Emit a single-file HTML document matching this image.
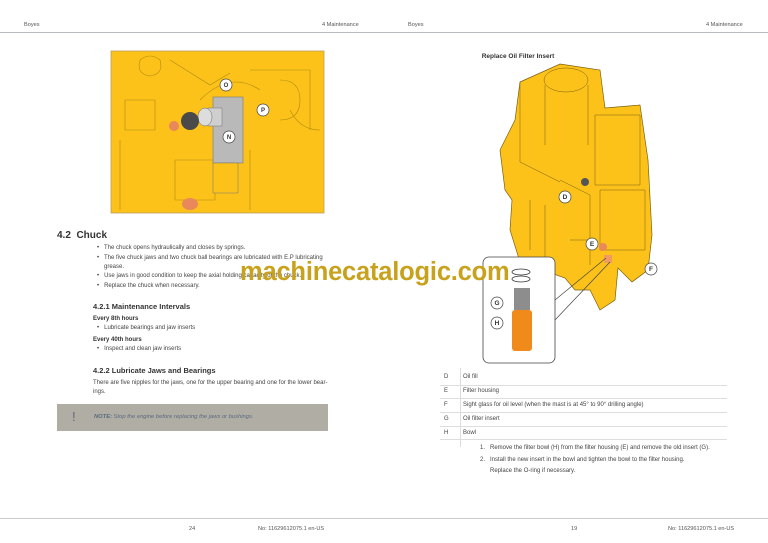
<!DOCTYPE html>
<html><head><meta charset="utf-8"><style>
*{margin:0;padding:0;box-sizing:border-box}
body{width:768px;height:543px;background:#fff;position:relative;overflow:hidden;font-family:"Liberation Sans",sans-serif;color:#333}
.a{position:absolute;white-space:nowrap}
.s{font-size:5.6px;color:#555}
.b{font-size:6px;color:#444}
.hd{font-weight:bold;color:#333}
</style></head><body>
<div class="a s" style="left:24px;top:22px">Boyes</div>
<div class="a s" style="left:322px;top:22px">4 Maintenance</div>
<div class="a s" style="left:408px;top:22px">Boyes</div>
<div class="a s" style="left:706px;top:22px">4 Maintenance</div>
<div class="a" style="left:0;top:32px;width:768px;height:1px;background:#b8bcc0"></div>

<svg class="a" style="left:0;top:0" width="768" height="543">
<!-- left image -->
<rect x="111" y="51" width="213" height="162" fill="#fcc21a" stroke="#bba060" stroke-width="0.8"/>
<g fill="none" stroke="#b08a10" stroke-width="0.6">
<path d="M140 60 q10 -8 20 0 q4 14 -10 16 q-14 -2 -10 -16z"/>
<path d="M170 60 l40 25 l20 -12"/><path d="M250 70 h60 v60"/><path d="M120 140 v70"/><path d="M175 160 h40 v40 h-40z"/>
<path d="M200 100 q30 -30 60 -10"/><path d="M290 110 q10 20 30 20"/>
<path d="M125 100 h30 v30 h-30z"/><path d="M280 80 q20 0 20 20 q0 20 -20 20"/><path d="M250 150 v60"/>
</g>
<circle cx="174" cy="126" r="5" fill="#e9885a"/>
<ellipse cx="190" cy="204" rx="8" ry="6" fill="#e9885a"/>
<rect x="213" y="97" width="30" height="66" fill="#b9b9b9" stroke="#777" stroke-width="0.6"/>
<rect x="208" y="108" width="14" height="18" fill="#cfcfcf" stroke="#777" stroke-width="0.5"/>
<ellipse cx="205" cy="117" rx="7" ry="9" fill="#ddd" stroke="#666" stroke-width="0.5"/>
<circle cx="190" cy="121" r="9" fill="#4a4a4a"/>
<rect x="213" y="163" width="25" height="30" fill="#fcc21a" stroke="#777" stroke-width="0.5"/>
<g fill="#fff" stroke="#444" stroke-width="0.7">
<circle cx="226" cy="85" r="6"/><circle cx="263" cy="110" r="6"/><circle cx="229" cy="137" r="6"/>
</g>
<g font-size="6" font-weight="bold" font-family="Liberation Sans" fill="#333" text-anchor="middle">
<text x="226" y="87">O</text><text x="263" y="112">P</text><text x="229" y="139">N</text></g>

<!-- right image -->
<text x="518" y="58" font-size="6.5" font-weight="bold" fill="#333" text-anchor="middle" font-family="Liberation Sans">Replace Oil Filter Insert</text>
<path d="M520 82 L560 64 L600 70 L605 108 L640 105 L648 160 L652 235 L648 270 L632 282 L618 268 L615 300 L600 310 L590 290 L575 290 L565 278 L520 262 L510 230 L512 200 L505 190 L500 150 L515 120z" fill="#fcc21a" stroke="#7a6010" stroke-width="0.7"/>
<g fill="none" stroke="#7a6010" stroke-width="0.5">
<ellipse cx="566" cy="80" rx="22" ry="12"/><path d="M545 85 v60 M588 85 v60"/><path d="M520 82 v80 l40 20"/>
<path d="M595 115 h45 v70 h-45z"/><path d="M600 190 h45 v60 h-45z"/><path d="M560 180 l30 15 v70"/>
<path d="M530 200 v50 M545 205 v55 M570 240 h20"/>
</g>
<circle cx="585" cy="182" r="4" fill="#555"/>
<circle cx="603" cy="247" r="4" fill="#e9885a"/>
<rect x="604" y="255" width="8" height="8" fill="#f29a60"/>
<rect x="483" y="257" width="72" height="106" rx="6" fill="#fff" stroke="#444" stroke-width="0.8"/>
<path d="M555 300 L606 258 M555 320 L610 262" stroke="#444" stroke-width="0.7"/>
<ellipse cx="521" cy="272" rx="9" ry="3" fill="none" stroke="#333" stroke-width="0.8"/>
<ellipse cx="521" cy="279" rx="9" ry="3" fill="none" stroke="#333" stroke-width="0.8"/>
<rect x="514" y="288" width="16" height="22" fill="#8d8d8d"/>
<rect x="512" y="310" width="20" height="41" rx="3" fill="#f08a1a"/>
<g fill="#fff" stroke="#444" stroke-width="0.7">
<circle cx="565" cy="197" r="6"/><circle cx="592" cy="244" r="6"/><circle cx="651" cy="269" r="6"/><circle cx="497" cy="303" r="6"/><circle cx="497" cy="323" r="6"/></g>
<g font-size="6.5" font-weight="bold" font-family="Liberation Sans" fill="#333" text-anchor="middle">
<text x="565" y="199">D</text><text x="592" y="246">E</text><text x="651" y="271">F</text><text x="497" y="305">G</text><text x="497" y="325">H</text></g>
</svg>

<div class="a" style="left:57px;top:230px;font-size:10px;font-weight:bold;color:#333">4.2&nbsp; Chuck</div>
<div class="a b" style="left:97px;top:245px">•&nbsp;&nbsp; The chuck opens hydraulically and closes by springs.</div>
<div class="a b" style="left:97px;top:255px">•&nbsp;&nbsp; The five chuck jaws and two chuck ball bearings are lubricated with E.P lubricating</div>
<div class="a b" style="left:104px;top:264px">grease.</div>
<div class="a b" style="left:97px;top:273px">•&nbsp;&nbsp; Use jaws in good condition to keep the axial holding capacity of the chuck.</div>
<div class="a b" style="left:97px;top:283px">•&nbsp;&nbsp; Replace the chuck when necessary.</div>
<div class="a" style="left:240px;top:258px;font-size:25.5px;font-weight:bold;color:#c8a21c;letter-spacing:-0.2px">machinecatalogic.com</div>
<div class="a hd" style="left:93px;top:302px;font-size:7.5px">4.2.1 Maintenance Intervals</div>
<div class="a hd" style="left:93px;top:316px;font-size:6px">Every 8th hours</div>
<div class="a b" style="left:97px;top:325px">•&nbsp;&nbsp; Lubricate bearings and jaw inserts</div>
<div class="a hd" style="left:93px;top:337px;font-size:6px">Every 40th hours</div>
<div class="a b" style="left:97px;top:346px">•&nbsp;&nbsp; Inspect and clean jaw inserts</div>
<div class="a hd" style="left:93px;top:366px;font-size:7.5px">4.2.2 Lubricate Jaws and Bearings</div>
<div class="a b" style="left:93px;top:380px">There are five nipples for the jaws, one for the upper bearing and one for the lower bear-</div>
<div class="a b" style="left:93px;top:389px">ings.</div>
<div class="a" style="left:57px;top:404px;width:271px;height:27px;background:#b0aea4"></div>
<div class="a" style="left:72px;top:409px;font-size:13px;color:#667">!</div>
<div class="a" style="left:94px;top:414px;font-size:5.8px;color:#5a6a80;font-style:italic"><b>NOTE:</b> Stop the engine before replacing the jaws or bushings.</div>

<div class="a" style="left:460px;top:368px;width:1px;height:79px;background:#ddd"></div>
<div class="a" style="left:440px;top:385px;width:287px;height:1px;background:#ddd"></div>
<div class="a" style="left:440px;top:398px;width:287px;height:1px;background:#ddd"></div>
<div class="a" style="left:440px;top:412px;width:287px;height:1px;background:#ddd"></div>
<div class="a" style="left:440px;top:426px;width:287px;height:1px;background:#ddd"></div>
<div class="a" style="left:440px;top:439px;width:287px;height:1px;background:#ddd"></div>
<div class="a b" style="left:444px;top:374px">D</div><div class="a b" style="left:463px;top:374px">Oil fill</div>
<div class="a b" style="left:444px;top:388px">E</div><div class="a b" style="left:463px;top:388px">Filter housing</div>
<div class="a b" style="left:444px;top:402px">F</div><div class="a b" style="left:463px;top:402px">Sight glass for oil level (when the mast is at 45° to 90° drilling angle)</div>
<div class="a b" style="left:444px;top:416px">G</div><div class="a b" style="left:463px;top:416px">Oil filter insert</div>
<div class="a b" style="left:444px;top:430px">H</div><div class="a b" style="left:463px;top:430px">Bowl</div>
<div class="a b" style="left:480px;top:445px">1.&nbsp;&nbsp; Remove the filter bowl (H) from the filter housing (E) and remove the old insert (G).</div>
<div class="a b" style="left:480px;top:457px">2.&nbsp;&nbsp; Install the new insert in the bowl and tighten the bowl to the filter housing.</div>
<div class="a b" style="left:490px;top:468px">Replace the O-ring if necessary.</div>

<div class="a" style="left:0;top:518px;width:768px;height:1px;background:#ccc"></div>
<div class="a s" style="left:189px;top:526px">24</div>
<div class="a s" style="left:258px;top:526px">No: 11629612075.1 en-US</div>
<div class="a s" style="left:571px;top:526px">19</div>
<div class="a s" style="left:668px;top:526px">No: 11629612075.1 en-US</div>
</body></html>
